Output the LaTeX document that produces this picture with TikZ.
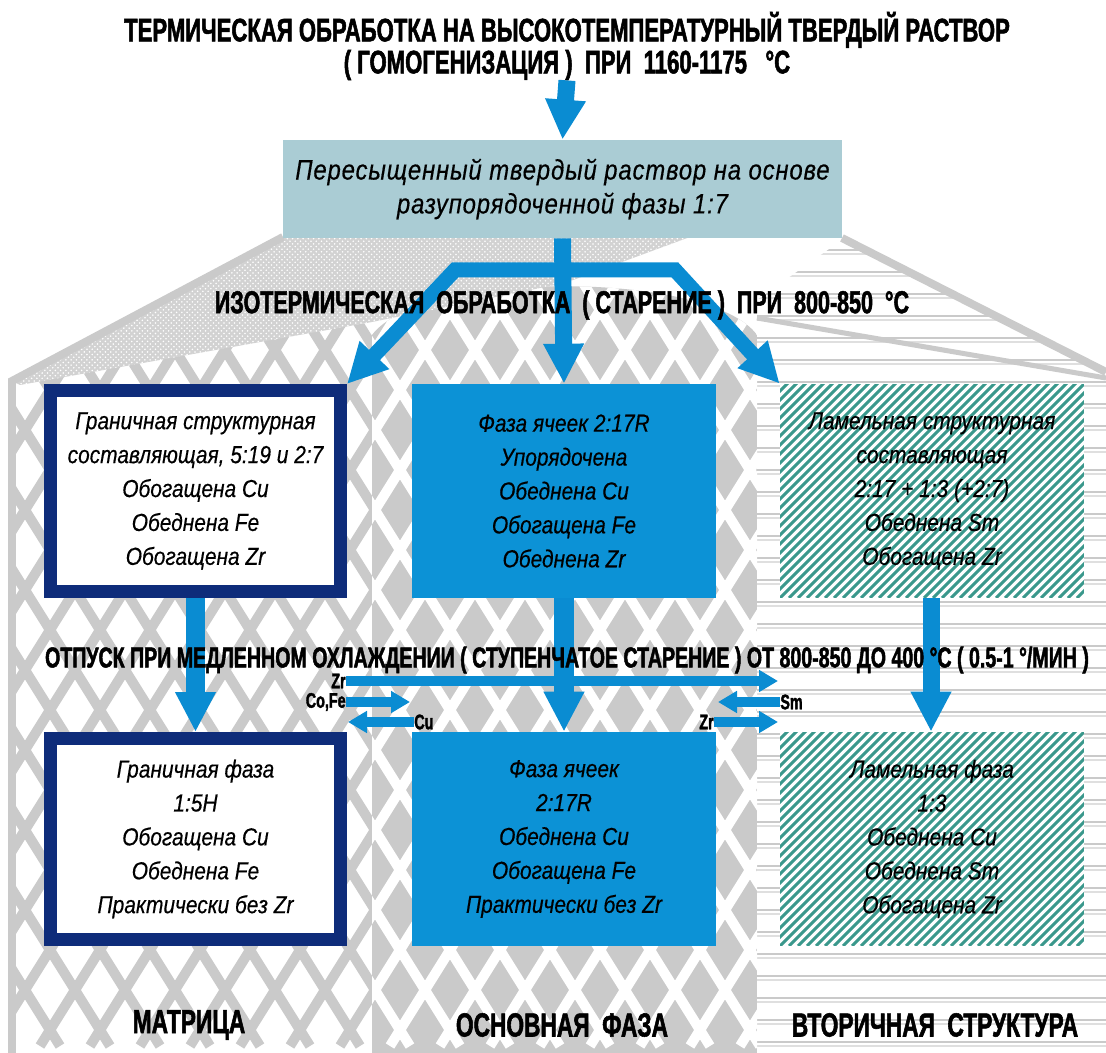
\documentclass[tikz,border=0pt]{standalone}
\usepackage{fontspec}
\setmainfont{Liberation Sans}
\newfontfamily\headfont[FakeStretch=0.68,FakeBold=1.6,UprightFont={* Bold}]{Liberation Sans}
\newfontfamily\boxfont[FakeStretch=0.85,FakeBold=0.4,UprightFont={* Italic}]{Liberation Sans}
\newfontfamily\solidfont[FakeStretch=0.85,FakeBold=0.4,LetterSpace=3,UprightFont={* Italic}]{Liberation Sans}
\usetikzlibrary{arrows.meta,positioning,patterns}

\definecolor{arrowblue}{RGB}{10,140,210}
\definecolor{cellblue}{RGB}{12,146,214}
\definecolor{navy}{RGB}{14,44,122}
\definecolor{solidblue}{RGB}{170,204,212}
\definecolor{latgray}{RGB}{202,202,202}
\definecolor{roofgray}{RGB}{210,210,210}
\definecolor{lamteal}{RGB}{58,152,140}

\begin{document}
\begin{tikzpicture}[x=0.02cm,y=-0.02cm,line join=miter]
  \tikzstyle{heading}=[font=\headfont\fontsize{18}{18.2}\selectfont, align=center, inner sep=0pt]
  \tikzstyle{colname}=[heading, font=\headfont\fontsize{19}{19}\selectfont]
  \tikzstyle{elem}=[font=\headfont\fontsize{12}{12}\selectfont, inner sep=0pt]
  \tikzstyle{phase}=[font=\boxfont\fontsize{14}{19.3}\selectfont, align=center, inner sep=0pt,
                     minimum width=6.08cm, minimum height=4.28cm]
  \tikzstyle{boundary}=[phase, fill=white, draw=navy, line width=0.26cm,
                        minimum width=5.8cm, minimum height=4.02cm]
  \tikzstyle{cell}=[phase, fill=cellblue]
  \tikzstyle{lamella}=[phase, fill=white, path picture={
      \foreach \i in {-25,...,35}
        \draw[lamteal, line width=0.06cm] ([xshift=\i*0.18cm]path picture bounding box.south west) -- ++(5cm,5cm);}]
  \tikzstyle{solid}=[font=\solidfont\fontsize{16}{19.3}\selectfont, align=center, fill=solidblue,
                     inner sep=0pt, minimum width=11.18cm, minimum height=1.96cm]
  \tikzstyle{bigarrow}=[draw=arrowblue, line width=0.34cm, -{Triangle[length=0.8cm,width=0.76cm]}]
  \tikzstyle{smallarrow}=[draw=arrowblue, line width=0.2cm, -{Triangle[length=0.38cm,width=0.42cm]}]
  \tikzstyle{latline}=[line width=0.2cm]
  \tikzstyle{hline}=[draw=latgray, line width=0.05cm]
  \tikzstyle{roof}=[draw=latgray, line width=0.16cm]

  \useasboundingbox (0,0) rectangle (1106,1053);
  \fill[white] (0,0) rectangle (1106,1053);

  % background: three columns under a roof
  \begin{scope}
    \clip (757,1053) -- (757,300) -- (842,240) -- (1106,372) -- (1106,1053) -- cycle;
    \foreach \y in {250,272,...,1050} {
      \draw[hline] (757,\y) -- (1106,\y);
      \draw[hline, draw=latgray!60] (757,\y+4) -- (1106,\y+4);
    }
  \end{scope}
  \begin{scope}
    \clip (12,1053) -- (12,383) -- (372,322) -- (372,1053) -- cycle;
    \foreach \k in {-12,...,27} {
      \draw[latline, draw=latgray] (\k*50,150) -- ++(560,896);
      \draw[latline, draw=latgray] (\k*50,150) -- ++(-560,896);
    }
  \end{scope}
  \begin{scope}
    \clip (372,1053) -- (372,335) .. controls (420,270) and (710,270) .. (757,335) -- (757,1053) -- cycle;
    \fill[latgray] (372,250) rectangle (757,1053);
    \foreach \k in {-12,...,27} {
      \draw[latline, draw=white] (\k*50,150) -- ++(560,896);
      \draw[latline, draw=white] (\k*50,150) -- ++(-560,896);
    }
  \end{scope}
  \fill[roofgray] (12,381) -- (283,237) -- (690,237) -- (565,283) -- (372,322) -- (20,385) -- cycle;
  \fill[pattern=crosshatch dots, pattern color=white] (12,381) -- (283,237) -- (690,237) -- (565,283) -- (372,322) -- (20,385) -- cycle;
  \draw[roof] (283,237) -- (12,381) -- (12,1053);
  \draw[roof] (842,238) -- (1106,372);
  \draw[roof, line width=0.1cm] (757,318) -- (1106,378);

  % phases
  \node[boundary] (bnd1) at (195.5,491) {Граничная структурная\\составляющая, 5:19 и 2:7\\Обогащена Cu\\Обеднена Fe\\Обогащена Zr};
  \node[cell]     (cell1) at (564,491) {Фаза ячеек 2:17R\\Упорядочена\\Обеднена Cu\\Обогащена Fe\\Обеднена Zr};
  \node[lamella]  (lam1) at (932,491) {Ламельная структурная\\составляющая\\2:17 + 1:3 (+2:7)\\Обеднена Sm\\Обогащена Zr};
  \node[boundary] (bnd2) at (195.5,839) {Граничная фаза\\1:5H\\Обогащена Cu\\Обеднена Fe\\Практически без Zr};
  \node[cell]     (cell2) at (564,839) {Фаза ячеек\\2:17R\\Обеднена Cu\\Обогащена Fe\\Практически без Zr};
  \node[lamella]  (lam2) at (932,839) {Ламельная фаза\\1:3\\Обеднена Cu\\Обеднена Sm\\Обогащена Zr};

  \node[heading, font=\headfont\fontsize{18.5}{18.2}\selectfont] (title) at (567,46)
    {ТЕРМИЧЕСКАЯ ОБРАБОТКА НА ВЫСОКОТЕМПЕРАТУРНЫЙ ТВЕРДЫЙ РАСТВОР\\( ГОМОГЕНИЗАЦИЯ )~ ПРИ~ 1160-1175~~ °C};
  \node[solid] (solid) at (562.5,189) {Пересыщенный твердый раствор на основе\\разупорядоченной фазы 1:7};

  % arrows
  \draw[bigarrow] (title.south) -- (solid.north);
  \draw[bigarrow] (solid.south) -- (cell1.north);
  \draw[bigarrow, line width=0.3cm, {Triangle[length=0.8cm,width=0.76cm]}-{Triangle[length=0.8cm,width=0.76cm]}]
    (bnd1.north east) -- (455,270) -- (675,270) -- (lam1.north west);
  \draw[bigarrow, line width=0.4cm] (bnd1.south) -- (bnd2.north);
  \draw[bigarrow, line width=0.4cm] (cell1.south) -- (cell2.north);
  \draw[bigarrow] (lam1.south -| 931,0) -- (lam2.north -| 931,0);

  \node[elem, anchor=east] (zrL) at (346,681) {Zr};
  \node[elem, anchor=east] (cofe) at (346,702) {Co,Fe};
  \node[elem, anchor=west] (cu) at (414,722) {Cu};
  \node[elem, anchor=west] (sm) at (780,702) {Sm};
  \node[elem, anchor=east] (zrR) at (714,722) {Zr};
  \coordinate (zrEnd) at (778,681);
  \coordinate (cofeEnd) at (410,702);
  \coordinate (cuEnd) at (348,722);
  \coordinate (smEnd) at (718,702);
  \coordinate (zrREnd) at (778,722);
  \draw[smallarrow] (zrL.east) -- (zrEnd);
  \draw[smallarrow] (cofe.east) -- (cofeEnd);
  \draw[smallarrow] (cu.west) -- (cuEnd);
  \draw[smallarrow] (sm.west) -- (smEnd);
  \draw[smallarrow] (zrR.east) -- (zrREnd);

  % stage headings and column names
  \node[heading] (iso) at (562,305) {ИЗОТЕРМИЧЕСКАЯ~ ОБРАБОТКА~ ( СТАРЕНИЕ )~ ПРИ~ 800-850~ °C};
  \node[heading, font=\headfont\fontsize{16.4}{17}\selectfont] (temper) at (567,660)
    {ОТПУСК ПРИ МЕДЛЕННОМ ОХЛАЖДЕНИИ ( СТУПЕНЧАТОЕ СТАРЕНИЕ ) ОТ 800-850 ДО 400 °C ( 0.5-1 °/МИН )};
  \node[colname] (matrix) at (189,1025) {МАТРИЦА};
  \node[colname] (main) at (562,1025) {ОСНОВНАЯ~ ФАЗА};
  \node[colname] (second) at (935,1025) {ВТОРИЧНАЯ~ СТРУКТУРА};
\end{tikzpicture}
\end{document}
